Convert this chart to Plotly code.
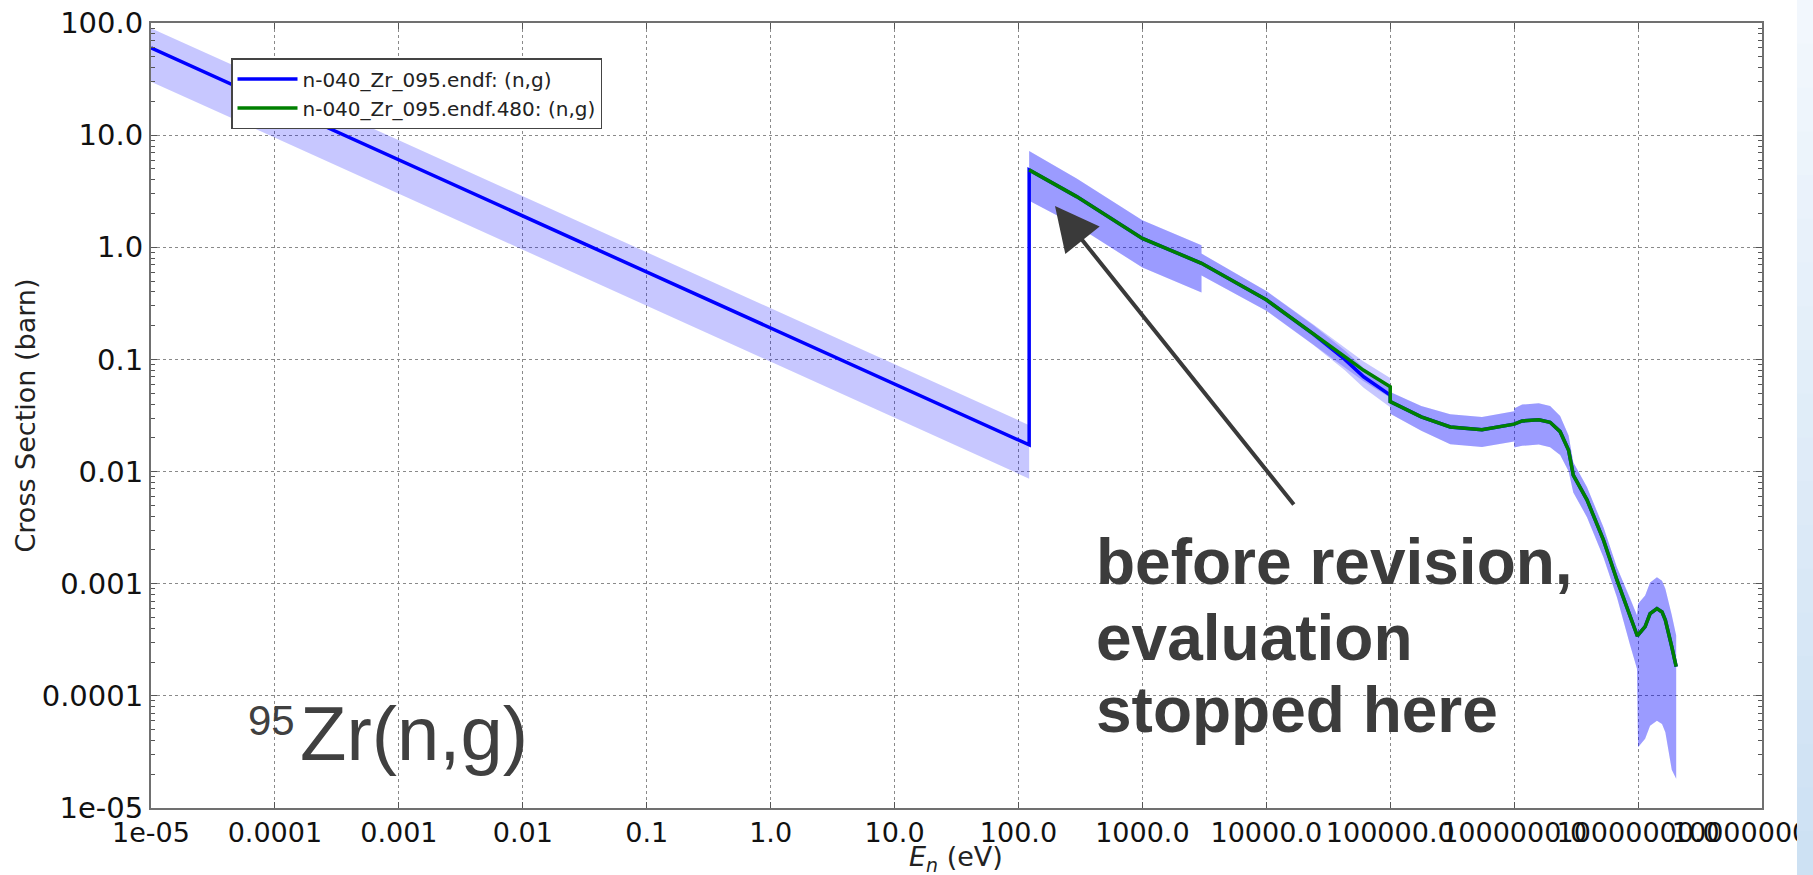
import plotly.graph_objects as go

# ---------------- data ----------------
energy_blue = [1e-5, 122, 122, 295, 1000, 3000, 3000, 10000, 24000, 43000, 61000,
               100000, 100000, 178000, 305000, 550000, 1e6, 1e6, 1.16e6, 1.58e6,
               1.95e6, 2.35e6, 2.75e6, 3.0e6, 3.87e6, 5.26e6, 6.75e6, 8.65e6, 9.8e6, 1e7,
               1.14e7, 1.25e7, 1.42e7, 1.56e7, 1.66e7, 1.87e7, 2.03e7]
xs_blue = [60, 0.0173, 4.9, 2.83, 1.2, 0.72, 0.72, 0.34, 0.168, 0.100, 0.070,
           0.048, 0.042, 0.0308, 0.025, 0.0236, 0.0265, 0.0265, 0.0283, 0.029,
           0.0275, 0.0227, 0.0155, 0.0093, 0.0056, 0.00245, 0.00108, 0.000508, 0.000349,
           0.000349, 0.000414, 0.00054, 0.0006, 0.00056, 0.000474, 0.000274, 0.000182]
unc_blue = [0.5, 0.5, 0.47, 0.45, 0.45, 0.45, 0.22, 0.2, 0.2, 0.2, 0.2,
            0.22, 0.22, 0.25, 0.3, 0.3, 0.3, 0.38, 0.4, 0.4,
            0.4, 0.38, 0.35, 0.3, 0.3, 0.3, 0.3, 0.45, 0.5,
            0.9, 0.9, 0.9, 0.9, 0.9, 0.9, 0.92, 0.9]

energy_green = [122, 295, 1000, 3000, 3000, 10000, 24000, 43000, 61000,
                100000, 100000, 178000, 305000, 550000, 1e6, 1e6, 1.16e6, 1.58e6,
                1.95e6, 2.35e6, 2.75e6, 3.0e6, 3.87e6, 5.26e6, 6.75e6, 8.65e6, 9.8e6, 1e7,
                1.14e7, 1.25e7, 1.42e7, 1.56e7, 1.66e7, 1.87e7, 2.03e7]
xs_green = [4.9, 2.83, 1.2, 0.72, 0.72, 0.34, 0.171, 0.106, 0.080,
            0.057, 0.042, 0.0308, 0.025, 0.0236, 0.0265, 0.0265, 0.0283, 0.029,
            0.0275, 0.0227, 0.0155, 0.0093, 0.0056, 0.00245, 0.00108, 0.000508, 0.000349,
            0.000349, 0.000414, 0.00054, 0.0006, 0.00056, 0.000474, 0.000274, 0.000182]
unc_green = [0.47, 0.45, 0.45, 0.45, 0.22, 0.2, 0.2, 0.2, 0.2,
             0.2, 0.22, 0.25, 0.3, 0.3, 0.3, 0.38, 0.4, 0.4,
             0.4, 0.38, 0.35, 0.3, 0.3, 0.3, 0.3, 0.45, 0.5,
             0.9, 0.9, 0.9, 0.9, 0.9, 0.9, 0.92, 0.9]

x_tick_vals = [1e-5, 1e-4, 1e-3, 1e-2, 1e-1, 1e0, 1e1, 1e2, 1e3, 1e4, 1e5, 1e6, 1e7, 1e8]
x_tick_text = ["1e-05", "0.0001", "0.001", "0.01", "0.1", "1.0", "10.0", "100.0",
               "1000.0", "10000.0", "100000.0", "1000000.0", "10000000.0", "100000000.0"]
y_tick_vals = [1e-5, 1e-4, 1e-3, 1e-2, 1e-1, 1e0, 1e1, 1e2]
y_tick_text = ["1e-05", "0.0001", "0.001", "0.01", "0.1", "1.0", "10.0", "100.0"]

name_blue = "n-040_Zr_095.endf: (n,g)"
name_green = "n-040_Zr_095.endf.480: (n,g)"

# ---------------- layout geometry ----------------
W, H = 1813, 875
ML, MR, MT, MB = 151, 51, 23, 67
PW, PH = W - ML - MR, H - MT - MB


def px(x):
    return (x - ML) / PW


def py(y):
    return (H - MB - y) / PH


def band(E, s, u):
    up = [v * (1 + r) for v, r in zip(s, u)]
    lo = [v * (1 - r) for v, r in zip(s, u)]
    return list(E) + list(E)[::-1], up + lo[::-1]


fig = go.Figure()

bx, by = band(energy_blue, xs_blue, unc_blue)
fig.add_trace(go.Scatter(x=bx, y=by, mode="lines", fill="toself",
                         fillcolor="rgba(0,0,255,0.22)", line=dict(width=0),
                         showlegend=False, hoverinfo="skip"))
gx, gy = band(energy_green, xs_green, unc_green)
fig.add_trace(go.Scatter(x=gx, y=gy, mode="lines", fill="toself",
                         fillcolor="rgba(0,0,255,0.22)", line=dict(width=0),
                         showlegend=False, hoverinfo="skip"))

fig.add_trace(go.Scatter(x=energy_blue, y=xs_blue, mode="lines", name=name_blue,
                         line=dict(color="#0000ff", width=3.5)))
fig.add_trace(go.Scatter(x=energy_green, y=xs_green, mode="lines", name=name_green,
                         line=dict(color="#008000", width=3.5)))

axis_common = dict(
    type="log", tickmode="array", ticks="inside", ticklen=6, tickcolor="#555",
    showline=True, linecolor="#707070", linewidth=2, mirror="ticks",
    showgrid=True, gridcolor="#8a8a8a", griddash="dot", gridwidth=1, zeroline=False,
    ticklabeloverflow="allow", automargin=False,
)

fig.update_layout(
    width=W, height=H, autosize=False,
    margin=dict(l=ML, r=MR, t=MT, b=MB, autoexpand=False),
    paper_bgcolor="white", plot_bgcolor="white",
    xaxis=dict(range=[-5, 8], tickvals=x_tick_vals, ticktext=x_tick_text, tickangle=0,
               tickfont=dict(family="DejaVu Sans", size=27, color="#111"),
               **axis_common),
    yaxis=dict(range=[-5, 2], tickvals=y_tick_vals, ticktext=y_tick_text,
               tickfont=dict(family="DejaVu Sans", size=29, color="#111"),
               minor=dict(ticks="inside", ticklen=4, tickcolor="#555", dtick="D1", showgrid=False),
               **axis_common),
    legend=dict(x=px(231), y=py(58), xanchor="left", yanchor="top",
                bgcolor="white", bordercolor="#444", borderwidth=1.5,
                font=dict(family="DejaVu Sans", size=20, color="#222"),
                itemwidth=60),
    showlegend=True,
)

annotations = [
    dict(x=px(25), y=py(415.5), text="Cross Section (barn)", textangle=-90,
         font=dict(family="DejaVu Sans", size=27, color="#222")),
    dict(x=px(956), y=py(858), text="<i>E</i><sub><i>n</i></sub> (eV)",
         font=dict(family="DejaVu Sans", size=27, color="#222")),
    dict(x=px(298), y=py(733.7), text="Zr(n,g)", xanchor="left",
         font=dict(family="Liberation Sans", size=76, color="#404040")),
    dict(x=px(246), y=py(720.5), text="95", xanchor="left",
         font=dict(family="Liberation Sans", size=42, color="#404040")),
    dict(x=px(1094), y=py(561.5), text="before revision,", xanchor="left",
         font=dict(family="Liberation Sans", size=64, color="#3c3c3c", weight="bold")),
    dict(x=px(1094), y=py(637.5), text="evaluation", xanchor="left",
         font=dict(family="Liberation Sans", size=64, color="#3c3c3c", weight="bold")),
    dict(x=px(1094), y=py(709.5), text="stopped here", xanchor="left",
         font=dict(family="Liberation Sans", size=64, color="#3c3c3c", weight="bold")),
]
for a in annotations:
    a.update(xref="paper", yref="paper", showarrow=False)
    a.setdefault("xanchor", "center")
    a.setdefault("yanchor", "middle")
    fig.add_annotation(**a)

fig.add_annotation(x=px(1055), y=py(206), xref="paper", yref="paper", text="",
                   showarrow=True, ax=240, ay=300, arrowhead=2, arrowsize=2.2,
                   arrowwidth=4, arrowcolor="#3a3a3a", standoff=0)

# light-blue slide strip on the right edge (vertical gradient)
n_strip = 20
top_c = (242, 247, 253)
bot_c = (205, 225, 243)
for i in range(n_strip):
    t = i / (n_strip - 1)
    c = tuple(round(top_c[k] + (bot_c[k] - top_c[k]) * t) for k in range(3))
    y0 = H * i / n_strip
    y1 = H * (i + 1) / n_strip
    fig.add_shape(type="rect", xref="paper", yref="paper", layer="above",
                  x0=px(1797), x1=px(W + 5), y0=py(y1 + 1), y1=py(y0),
                  fillcolor="rgb(%d,%d,%d)" % c, line=dict(width=0))

post = (
    "document.documentElement.style.overflow='hidden';"
    "document.body.style.margin='0';document.body.style.padding='0';"
    "document.body.style.overflow='hidden';"
    "document.querySelectorAll('.plotly-graph-div').forEach(function(d){"
    "d.style.overflow='hidden';d.style.width='1813px';d.style.height='875px';});"
    "document.querySelectorAll('.main-svg').forEach(function(s){s.style.overflow='hidden';});"
)
fig.write_html("out.html", config={"displayModeBar": False}, post_script=post)
